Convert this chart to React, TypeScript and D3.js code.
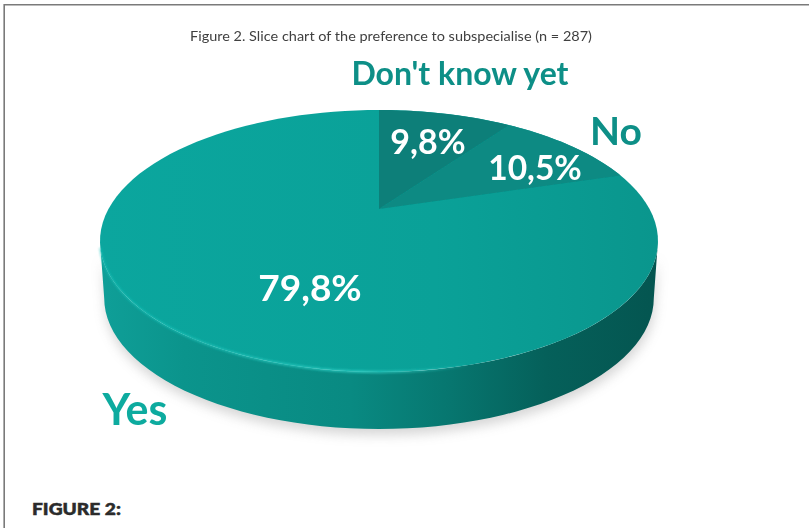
import React from "react";
import * as d3 from "d3";

const categories = ["Don't know yet", "No", "Yes"];
const values = [9.8, 10.5, 79.8];
const valueLabels = ["9,8%", "10,5%", "79,8%"];
const sliceColors = ["#0a7f79", "#0b8a83", "none"];
const titleText = "Figure 2. Slice chart of the preference to subspecialise (n = 287)";
const captionText = "FIGURE 2:";

const W = 809, H = 528;
const cx = 379, cy = 241, rxE = 279, ryE = 131, depth = 57, apexUp = 32;
const k = apexUp / ryE;
const c = rxE * Math.sqrt(1 - k * k);

function project(a: number, r = 1): [number, number] {
  const u = r * Math.sin(a), v = r * Math.cos(a);
  const w = 1 + k * v;
  return [cx + (c * u) / w, cy - (ryE * v + apexUp) / w];
}

const pieGen = d3.pie<number>().sort(null).startAngle(0).endAngle(2 * Math.PI);
const arcs = pieGen(values);
const line = d3.line();

function slicePath(s: number, e: number) {
  const n = Math.max(4, Math.ceil((e - s) * 40));
  const pts: [number, number][] = [project(0, 0)];
  d3.range(n + 1).forEach((i) => pts.push(project(s + ((e - s) * i) / n)));
  return line(pts) + "Z";
}

const topEllipse = d3.range(0, 121).map((i) => project((i / 120) * 2 * Math.PI));

export default function App() {
  const rimFront = d3.range(0, 61).map((i) => {
    const t = (i / 60) * Math.PI;
    return [cx + rxE * Math.cos(t), cy + ryE * Math.sin(t)] as [number, number];
  });
  const rimLow = rimFront.map(([x, y]) => {
    const dx = x - cx;
    return [cx + dx * 0.985, y + depth] as [number, number];
  }).reverse();
  const sidePath = line([...rimFront, ...rimLow]) + "Z";
  const highlight = line(rimFront.slice(24, 60));
  const labelStyle = { filter: "url(#soft)" };
  return (
    <svg width={W} height={H} viewBox={`0 0 ${W} ${H}`}
      style={{ position: "fixed", left: 0, top: 0, background: "#fff" }}
      fontFamily="Lato, 'Open Sans', sans-serif">
      <defs>
        <linearGradient id="side" x1="0" x2="1" y1="0" y2="0">
          <stop offset="0" stopColor="#0f9f98" />
          <stop offset="0.15" stopColor="#0b948c" />
          <stop offset="0.45" stopColor="#098a82" />
          <stop offset="0.62" stopColor="#077770" />
          <stop offset="0.8" stopColor="#05605a" />
          <stop offset="1" stopColor="#045550" />
        </linearGradient>
        <linearGradient id="topFace" x1="0" x2="1" y1="0" y2="0">
          <stop offset="0" stopColor="#0ba69e" />
          <stop offset="0.6" stopColor="#0aa198" />
          <stop offset="1" stopColor="#0a968d" />
        </linearGradient>
        <linearGradient id="glow" gradientUnits="userSpaceOnUse" x1="100" x2="480" y1="0" y2="0">
          <stop offset="0" stopColor="#1cc4bb" stopOpacity="0.5" />
          <stop offset="0.7" stopColor="#2fd0c6" stopOpacity="0.85" />
          <stop offset="1" stopColor="#2fd0c6" stopOpacity="0" />
        </linearGradient>
        <filter id="shadow" x="-10%" y="-20%" width="120%" height="140%">
          <feGaussianBlur stdDeviation="6" />
        </filter>
        <filter id="edge" x="-10%" y="-20%" width="120%" height="140%">
          <feGaussianBlur stdDeviation="1.3" />
        </filter>
        <filter id="soft" x="-5%" y="-20%" width="110%" height="140%">
          <feGaussianBlur stdDeviation="0.45" />
        </filter>
      </defs>
      <path d="M4.2 528V4.8H809" fill="none" stroke="#7a7a7a" strokeWidth={1.6} />
      <text x={391} y={41} textAnchor="middle" fontSize={13} fill="#3f3f3f" textLength={402}
        lengthAdjust="spacingAndGlyphs" style={labelStyle}>{titleText}</text>
      <path d={sidePath} fill="#888" opacity={0.35} filter="url(#shadow)" transform="translate(1,6)" />
      <path d={sidePath} fill="url(#side)" />
      <path d={line(topEllipse) + "Z"} fill="url(#topFace)" />
      {arcs.map((a, i) => sliceColors[i] === "none" ? null : (
        <path key={categories[i]} d={slicePath(a.startAngle, a.endAngle)} fill={sliceColors[i]} filter="url(#soft)" />
      ))}
      <path d={highlight ?? ""} fill="none" stroke="url(#glow)" strokeWidth={2.5} filter="url(#edge)" />
      <g fontWeight={700} style={labelStyle}>
        <text x={460} y={85} textAnchor="middle" fontSize={32} fill="#0d8f87">{categories[0]}</text>
        <text x={616} y={145} textAnchor="middle" fontSize={39} fill="#0d8f87">{categories[1]}</text>
        <text x={135} y={425} textAnchor="middle" fontSize={43} fill="#10ab9f">{categories[2]}</text>
        <text x={428} y={154} textAnchor="middle" fontSize={34} fill="#fff">{valueLabels[0]}</text>
        <text x={535} y={180} textAnchor="middle" fontSize={33.5} fill="#fff">{valueLabels[1]}</text>
        <text x={310} y={301} textAnchor="middle" fontSize={37} fill="#fff">{valueLabels[2]}</text>
      </g>
      <text x={32} y={515} fontSize={17} fontWeight={900} fill="#2b2b2b" stroke="#2b2b2b" strokeWidth={0.5}
        textLength={89} lengthAdjust="spacingAndGlyphs">{captionText}</text>
    </svg>
  );
}
